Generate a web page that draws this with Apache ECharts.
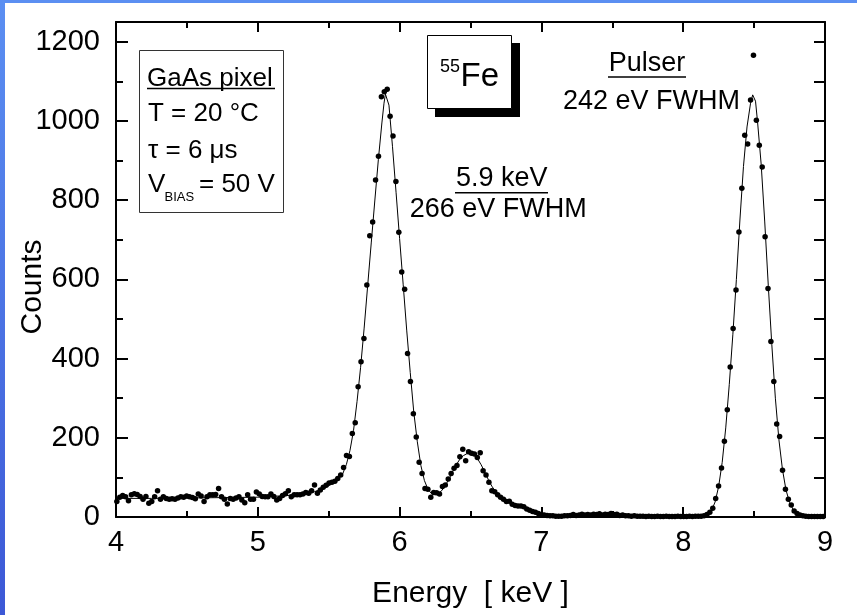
<!DOCTYPE html>
<html>
<head>
<meta charset="utf-8">
<script src="https://cdn.jsdelivr.net/npm/echarts@6/dist/echarts.min.js"></script>
<style>html,body{margin:0;padding:0;background:#fff;}#c{width:857px;height:615px;}</style>
</head>
<body>
<div id="c"></div>
<script>
// ---- data ----
const energies = [
4.0060,4.0265,4.0470,4.0675,4.0880,4.1085,4.1290,4.1495,4.1700,4.1905,
4.2110,4.2315,4.2520,4.2725,4.2930,4.3135,4.3340,4.3545,4.3750,4.3955,
4.4160,4.4365,4.4570,4.4775,4.4980,4.5185,4.5390,4.5595,4.5800,4.6005,
4.6210,4.6415,4.6620,4.6825,4.7030,4.7235,4.7440,4.7645,4.7850,4.8055,
4.8260,4.8465,4.8670,4.8875,4.9080,4.9285,4.9490,4.9695,4.9900,5.0105,
5.0310,5.0515,5.0720,5.0925,5.1130,5.1335,5.1540,5.1745,5.1950,5.2155,
5.2360,5.2565,5.2770,5.2975,5.3180,5.3385,5.3590,5.3795,5.4000,5.4205,
5.4410,5.4615,5.4820,5.5025,5.5230,5.5435,5.5640,5.5845,5.6050,5.6255,
5.6460,5.6665,5.6870,5.7075,5.7280,5.7485,5.7690,5.7895,5.8100,5.8305,
5.8510,5.8715,5.8920,5.9125,5.9330,5.9535,5.9740,5.9945,6.0150,6.0355,
6.0560,6.0765,6.0970,6.1175,6.1380,6.1585,6.1790,6.1995,6.2200,6.2405,
6.2610,6.2815,6.3020,6.3225,6.3430,6.3635,6.3840,6.4045,6.4250,6.4455,
6.4660,6.4865,6.5070,6.5275,6.5480,6.5685,6.5890,6.6095,6.6300,6.6505,
6.6710,6.6915,6.7120,6.7325,6.7530,6.7735,6.7940,6.8145,6.8350,6.8555,
6.8760,6.8965,6.9170,6.9375,6.9580,6.9785,6.9990,7.0195,7.0400,7.0605,
7.0810,7.1015,7.1220,7.1425,7.1630,7.1835,7.2040,7.2245,7.2450,7.2655,
7.2860,7.3065,7.3270,7.3475,7.3680,7.3885,7.4090,7.4295,7.4500,7.4705,
7.4910,7.5115,7.5320,7.5525,7.5730,7.5935,7.6140,7.6345,7.6550,7.6755,
7.6960,7.7165,7.7370,7.7575,7.7780,7.7985,7.8190,7.8395,7.8600,7.8805,
7.9010,7.9215,7.9420,7.9625,7.9830,8.0035,8.0240,8.0445,8.0650,8.0855,
8.1060,8.1265,8.1470,8.1675,8.1880,8.2085,8.2290,8.2495,8.2700,8.2905,
8.3110,8.3315,8.3520,8.3725,8.3930,8.4135,8.4340,8.4545,8.4750,8.4955,
8.5160,8.5365,8.5570,8.5775,8.5980,8.6185,8.6390,8.6595,8.6800,8.7005,
8.7210,8.7415,8.7620,8.7825,8.8030,8.8235,8.8440,8.8645,8.8850,8.9055,
8.9260,8.9465,8.9670,8.9875
];
const counts = [
39,50,54,51,41,56,59,57,52,45,
52,35,39,51,66,45,51,47,45,46,
45,48,51,50,53,51,49,46,58,53,
39,51,56,56,57,72,51,45,33,47,
45,48,51,43,36,56,45,45,63,58,
52,51,51,58,52,43,47,54,59,66,
51,56,56,56,58,62,60,66,81,60,
68,75,80,86,88,90,97,106,125,155,
153,211,238,329,392,451,586,710,745,851,
911,1061,1074,1080,1012,962,847,719,619,575,
413,342,261,202,138,110,72,70,50,62,
61,58,77,81,96,110,123,130,152,171,
142,165,161,159,150,162,117,106,88,66,
64,56,50,45,39,40,32,29,28,28,
26,20,17,14,12,9,6,5,4,3,
3,2,2,2,3,3,4,6,4,5,
7,5,6,5,7,6,8,5,7,6,
9,6,7,4,5,3,3,2,3,2,
2,2,1,2,1,1,2,1,1,2,
1,1,1,2,1,1,1,2,1,2,
2,2,3,6,12,22,47,78,124,191,
271,379,476,573,720,830,964,942,1053,1166,
1002,939,884,708,577,443,342,235,203,118,
70,45,30,15,9,5,3,2,1,1,
1,1,1,1
];
const fitEnergies = [4.0,4.25,4.5,4.75,5.0,5.1,5.2,5.3,5.35,5.4,5.45,5.5,5.55,5.6,5.625,5.65,5.675,5.7,5.725,5.75,5.775,5.8,5.825,5.85,5.875,5.89,5.9,5.91,5.925,5.95,5.975,6.0,6.025,6.05,6.075,6.1,6.125,6.15,6.175,6.2,6.225,6.25,6.275,6.3,6.325,6.35,6.375,6.4,6.425,6.45,6.475,6.5,6.525,6.55,6.575,6.6,6.625,6.65,6.675,6.7,6.725,6.75,6.8,6.85,6.9,6.95,7.0,7.05,7.5,8.0,8.12,8.15,8.175,8.2,8.225,8.25,8.275,8.3,8.325,8.35,8.375,8.4,8.425,8.45,8.475,8.49,8.5,8.51,8.525,8.55,8.575,8.6,8.625,8.65,8.675,8.7,8.725,8.75,8.775,8.8,8.85,8.9,9.0];
const fitCounts = [47,47,48,49,50,52,54,57,60,64,70,79,92,110,133,168,218,292,378,477,585,692,798,902,995,1045,1068,1070,1040,935,820,703,588,472,365,265,190,130,92,70,59,56,59,68,81,97,115,132,146,155,160,160,156,147,132,114,95,78,65,55,47,41,33,27,19,10,4,2,3,2,2,3,7,16,38,77,138,225,335,460,600,750,885,985,1045,1066,1071,1050,995,890,745,585,435,300,195,120,68,37,19,10,3,1,1];
const xTickValues = [4, 5, 6, 7, 8, 9];
const yTickValues = [0, 200, 400, 600, 800, 1000, 1200];

// ---- chart ----
const FONT = '"Liberation Sans", Arial, Helvetica, sans-serif';
const chart = echarts.init(document.getElementById('c'), null, {renderer: 'canvas'});
const pts = energies.map((e, i) => [e, counts[i]]);
const fit = fitEnergies.map((e, i) => [e, fitCounts[i]]);

function txt(text, x, y, size, align, extra) {
  return Object.assign({
    type: 'text', x: x, y: y, z: 50,
    style: {text: text, fill: '#000', fontSize: size, fontFamily: FONT,
            align: align || 'left', verticalAlign: 'middle',
            textAlign: align || 'left', textVerticalAlign: 'middle'}
  }, extra || {});
}
function hline(x1, x2, y, w) {
  return {type: 'line', z: 50, shape: {x1: x1, y1: y, x2: x2, y2: y}, style: {stroke: '#000', lineWidth: w || 1.5}};
}

const axisCommon = {
  axisLine: {show: true, onZero: false, lineStyle: {color: '#000', width: 2}},
  splitLine: {show: false}
};

const option = {
  animation: false,
  backgroundColor: '#fff',
  grid: {left: 116, right: 32, top: 22, bottom: 98, containLabel: false},
  xAxis: [
    Object.assign({}, axisCommon, {
      type: 'value', position: 'bottom', min: 4, max: 9, interval: 1,
      axisTick: {show: true, inside: true, length: 10, lineStyle: {color: '#000', width: 2}},
      minorTick: {show: true, splitNumber: 2, length: 6, lineStyle: {color: '#000', width: 2}},
      axisLabel: {show: true, margin: 11, color: '#000', fontSize: 29, fontFamily: FONT,
        formatter: v => xTickValues.indexOf(v) >= 0 ? String(v) : ''}
    }),
    Object.assign({}, axisCommon, {
      type: 'value', position: 'top', min: 4, max: 9, interval: 1,
      axisTick: {show: true, inside: true, length: 10, lineStyle: {color: '#000', width: 2}},
      minorTick: {show: true, splitNumber: 2, length: 6, lineStyle: {color: '#000', width: 2}},
      axisLabel: {show: false}
    })
  ],
  yAxis: [
    Object.assign({}, axisCommon, {
      type: 'value', position: 'left', min: 0, max: 1250, interval: 200,
      axisTick: {show: true, inside: true, length: 12, lineStyle: {color: '#000', width: 2}},
      axisLabel: {show: true, margin: 16, color: '#000', fontSize: 29, fontFamily: FONT,
        showMaxLabel: false,
        formatter: v => yTickValues.indexOf(v) >= 0 ? String(v) : ''}
    }),
    {
      type: 'value', position: 'left', min: 0, max: 1250, interval: 100,
      axisLine: {show: false}, splitLine: {show: false},
      axisTick: {show: true, inside: true, length: 7, lineStyle: {color: '#000', width: 2}},
      axisLabel: {show: false}
    },
    Object.assign({}, axisCommon, {
      type: 'value', position: 'right', min: 0, max: 1250, interval: 100,
      axisTick: {show: true, inside: true, length: 11, lineStyle: {color: '#000', width: 2}},
      axisLabel: {show: false}
    })
  ],
  series: [
    {type: 'line', xAxisIndex: 0, yAxisIndex: 0, data: fit, showSymbol: false, symbol: 'none',
     lineStyle: {color: '#000', width: 1}, z: 3, silent: true},
    {type: 'scatter', xAxisIndex: 0, yAxisIndex: 0, data: pts, symbol: 'circle', symbolSize: 5.5,
     itemStyle: {color: '#000', opacity: 1}, z: 4, silent: true}
  ],
  graphic: {elements: [
    // slide frame
    {type: 'rect', z: 60, shape: {x: 0, y: 0, width: 5, height: 615},
     style: {fill: new echarts.graphic.LinearGradient(0, 0, 0, 1, [{offset: 0, color: '#5b8ff2'}, {offset: 1, color: '#3c58d6'}])}},
    {type: 'rect', z: 60, shape: {x: 0, y: 0, width: 857, height: 3}, style: {fill: '#5b8ff2'}},
    // axis titles
    txt('Counts', 33, 287, 30, 'center', {rotation: Math.PI / 2}),
    txt('Energy  [ keV ]', 470.5, 594, 30, 'center'),
    // GaAs box
    {type: 'rect', z: 40, shape: {x: 139.5, y: 50.5, width: 144, height: 162},
     style: {fill: '#fff', stroke: '#333', lineWidth: 1}},
    txt('GaAs pixel', 147, 78.5, 26),
    hline(147, 275, 88.5, 1.5),
    txt('T = 20 \u00B0C', 148, 114, 26),
    txt('\u03C4 = 6 \u03BCs', 148, 151, 26),
    txt('V', 148, 185, 26),
    txt('BIAS', 164.5, 197.5, 13),
    txt('= 50 V', 199, 185, 26),
    // 55Fe box
    {type: 'rect', z: 40, shape: {x: 435, y: 43, width: 85, height: 74}, style: {fill: '#000'}},
    {type: 'rect', z: 41, shape: {x: 427.5, y: 35.5, width: 84, height: 73},
     style: {fill: '#fff', stroke: '#000', lineWidth: 1}},
    txt('55', 440, 67, 18),
    txt('Fe', 460.5, 77, 33),
    // annotations
    txt('Pulser', 647, 64, 27, 'center'),
    hline(608, 686, 77, 1.5),
    txt('242 eV FWHM', 651.4, 101.7, 27, 'center'),
    txt('5.9 keV', 501.7, 178.3, 27, 'center'),
    hline(455, 548, 192.7, 1.5),
    txt('266 eV FWHM', 498.3, 209.7, 27, 'center')
  ]}
};
chart.setOption(option);
</script>
</body>
</html>
